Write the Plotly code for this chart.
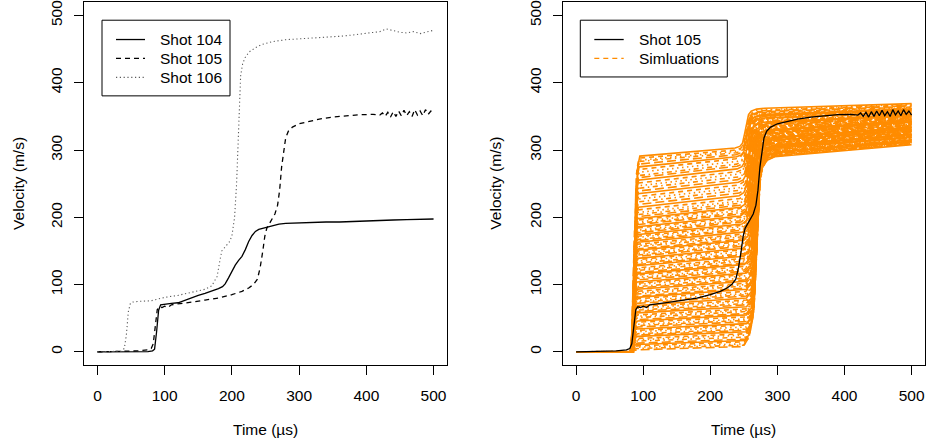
import plotly.graph_objects as go

# ---------------- data ----------------
t104 = [0, 20, 40, 60, 75, 82, 85, 88, 91, 94, 100, 110, 120, 130, 140, 150, 160, 170, 180, 186,
        190, 195, 200, 205, 210, 215, 220, 225, 230, 235, 240, 250, 260, 270, 280, 300, 320, 340, 360, 380,
        400, 420, 440, 460, 480, 500]
v104 = [0, 0, 0, 0.5, 0.5, 1.5, 4, 30, 62, 70, 71, 72, 73, 77, 81, 84, 87, 90, 94, 97,
        101, 110, 120, 129, 136, 142, 152, 164, 173, 179, 182, 185, 188, 190, 191, 192, 192.5, 193, 193, 194,
        195, 195.5, 196, 196.5, 197, 197.5]

t105 = [0, 20, 40, 60, 75, 80, 83, 86, 89, 92, 96, 100, 105, 110, 120, 140, 160, 180, 200, 215,
        225, 232, 238, 242, 246, 249, 252, 256, 260, 264, 268, 271, 274, 277, 280, 284, 290, 300, 315, 330,
        350, 370, 390, 410, 420, 424, 428, 432, 436, 440, 444, 448, 452, 456, 460, 464, 468, 472, 476, 480,
        484, 488, 492, 496, 500]
v105 = [0, 0.5, 1, 1.5, 3, 5, 12, 40, 63, 67, 66, 68, 66, 70, 71, 74, 77, 80, 85, 90,
        95, 100, 108, 125, 150, 172, 184, 191, 197, 205, 218, 240, 275, 300, 318, 328, 334, 339, 343, 346,
        349, 351, 352.5, 353, 352, 355, 350, 356, 349, 357, 350, 358, 351, 359, 351, 357, 350, 360, 352, 358,
        351, 360, 353, 358, 352]

t106 = [0, 20, 35, 40, 43, 46, 49, 52, 60, 80, 100, 120, 140, 160, 170, 178, 182, 185, 190, 196,
        200, 204, 207, 209, 211, 213, 216, 220, 226, 235, 245, 260, 280, 300, 320, 340, 360, 380, 400, 420,
        430, 440, 450, 460, 470, 480, 490, 500]
v106 = [0, 0, 1, 5, 25, 60, 72, 74, 75, 76, 81, 84, 88, 93, 98, 112, 135, 150, 156, 163,
        172, 200, 250, 300, 360, 410, 428, 438, 446, 452, 457, 461, 464, 465, 466, 467, 469, 471, 473, 476,
        480, 477, 475, 474, 476, 473, 475, 478]

# simulations: jump-1 time, level after jump 1, level before jump 2, jump-2 time,
# level after the jump-2 knee, final level at 500 us
sim_t1 = [89, 88, 89, 88, 87, 88, 87, 88, 87, 88, 86, 87, 88, 86, 87, 86, 87, 86, 87, 86,
          87, 86, 85, 86, 86, 85, 87, 85, 86, 84, 86, 85, 87, 85, 86, 84, 86, 85, 86, 84,
          86, 85, 86, 84, 86, 85, 86, 84, 86, 85, 86, 84, 86, 85, 86, 84, 86, 85, 86, 84,
          86, 85, 86, 84, 86, 85, 86, 84, 86, 85, 86, 84, 86, 85, 86, 84, 86, 85, 86, 84,
          86, 85, 86, 84, 86, 85, 86, 84, 86, 85, 86, 84, 86, 85, 86, 84, 86, 85, 86, 84,
          86, 85, 86, 84, 86, 85, 86, 84, 86, 85]
sim_v1 = [291, 288, 285, 283, 279, 275, 271, 267, 262, 259, 255, 251, 247, 243, 239, 235, 231, 227, 223, 219,
          215, 211, 207, 204, 201, 198, 196, 193, 191, 189, 186, 184, 181, 179, 177, 174, 172, 170, 167, 165,
          163, 160, 158, 156, 153, 151, 149, 146, 144, 142, 139, 137, 135, 132, 130, 128, 125, 123, 121, 118,
          116, 114, 111, 109, 107, 104, 102, 100, 97, 95, 93, 90, 88, 86, 83, 81, 79, 76, 74, 72,
          69, 67, 65, 62, 60, 58, 55, 53, 51, 48, 46, 44, 41, 39, 37, 34, 32, 30, 27, 25,
          23, 20, 18, 16, 13, 11, 9, 7, 5, 3]
sim_v2 = [303, 300, 298, 296, 293, 290, 287, 283, 279, 276, 272, 268, 264, 260, 256, 252, 248, 244, 240, 236,
          232, 228, 224, 221, 218, 215, 213, 210, 207, 205, 202, 200, 197, 195, 193, 190, 188, 186, 183, 181,
          178, 175, 173, 171, 168, 166, 164, 161, 159, 157, 154, 152, 149, 146, 144, 142, 139, 137, 135, 132,
          130, 127, 124, 122, 120, 117, 115, 113, 110, 107, 105, 102, 100, 98, 95, 93, 90, 87, 85, 83,
          80, 77, 75, 72, 70, 67, 64, 62, 60, 57, 55, 52, 49, 47, 45, 42, 40, 37, 34, 32,
          30, 27, 25, 22, 19, 17, 15, 12, 10, 8]
sim_t2 = [251, 252, 251, 253, 252, 253, 252, 254, 253, 254, 254, 255, 254, 256, 255, 256, 256, 257, 256, 257,
          257, 258, 257, 258, 258, 259, 258, 259, 259, 260, 259, 260, 260, 261, 260, 261, 261, 261, 261, 262,
          262, 262, 262, 262, 262, 263, 262, 263, 263, 263, 263, 264, 263, 264, 264, 264, 264, 265, 265, 265,
          265, 265, 266, 265, 266, 266, 266, 266, 267, 266, 267, 267, 267, 267, 267, 268, 267, 268, 268, 268,
          268, 268, 268, 268, 268, 268, 268, 268, 268, 268, 268, 268, 268, 268, 268, 268, 268, 268, 268, 268,
          268, 267, 267, 267, 266, 266, 265, 265, 264, 263]
sim_v3 = [362, 358, 360, 354, 357, 352, 356, 350, 359, 348, 353, 347, 355, 344, 351, 342, 353, 339, 348, 338,
          351, 335, 345, 333, 347, 330, 342, 328, 349, 326, 340, 324, 346, 322, 337, 330, 343, 320, 335, 328,
          341, 317, 333, 325, 338, 315, 331, 323, 336, 313, 329, 321, 334, 311, 327, 319, 332, 309, 324, 316,
          330, 307, 322, 314, 328, 305, 320, 313, 326, 303, 318, 311, 324, 301, 315, 308, 321, 299, 313, 306,
          319, 298, 311, 303, 316, 296, 309, 301, 314, 294, 306, 299, 311, 293, 303, 297, 308, 292, 301, 295,
          306, 291, 299, 294, 303, 290, 297, 293, 301, 291]
sim_v4 = [369, 366, 368, 362, 365, 360, 364, 358, 367, 356, 361, 355, 363, 352, 359, 350, 362, 348, 357, 347,
          361, 345, 355, 343, 358, 341, 353, 339, 360, 337, 351, 336, 357, 334, 349, 342, 355, 332, 347, 340,
          353, 330, 346, 338, 351, 328, 344, 336, 349, 326, 342, 334, 347, 325, 340, 332, 346, 323, 338, 330,
          344, 321, 336, 328, 342, 319, 334, 327, 340, 318, 332, 325, 338, 316, 330, 323, 336, 315, 328, 321,
          334, 314, 326, 319, 332, 313, 325, 318, 330, 312, 323, 316, 328, 311, 321, 315, 326, 310, 319, 313,
          324, 309, 317, 312, 322, 308, 315, 311, 320, 310]

# shared transition profiles (time offset, fraction of the step) for the simulated jumps
jump1_dt = [-3, -1, 1, 3, 6]
jump1_frac = [0.0, 0.15, 0.7, 0.95, 1.0]
jump2_dt = [-14, -7, -3, 0, 3, 6, 10, 18, 30]
jump2_frac = [0.0, 0.04, 0.12, 0.35, 0.65, 0.84, 0.93, 0.98, 1.0]

tick_vals = [0, 100, 200, 300, 400, 500]

left_legend = ["Shot 104", "Shot 105", "Shot 106"]
right_legend = ["Shot 105", "Simluations"]

# ---------------- styling ----------------
FONT = "Liberation Sans, Arial, sans-serif"
FS = 15.5
ORANGE = "#FF8C00"
DASH105 = "5px,4px"
DOT106 = "1.2px,2.6px"
GREY106 = "#5a5a5a"
sim_dashes = ["solid", "5px,4px", "1.5px,3.5px", "1.5px,3.5px,5px,3.5px", "9px,4px"]

fig = go.Figure()

# left panel
fig.add_trace(go.Scatter(x=t104, y=v104, mode="lines", name="Shot 104", showlegend=False,
                         line=dict(color="black", width=1.3), xaxis="x", yaxis="y"))
fig.add_trace(go.Scatter(x=t105, y=v105, mode="lines", name="Shot 105", showlegend=False,
                         line=dict(color="black", width=1.3, dash=DASH105), xaxis="x", yaxis="y"))
fig.add_trace(go.Scatter(x=t106, y=v106, mode="lines", name="Shot 106", showlegend=False,
                         line=dict(color=GREY106, width=1.1, dash=DOT106), xaxis="x", yaxis="y"))

# right panel: simulations grouped by line type
for k, dash in enumerate(sim_dashes):
    xs, ys = [], []
    for i in range(k, len(sim_v1), len(sim_dashes)):
        xs.append(0)
        ys.append(0)
        for dt, f in zip(jump1_dt, jump1_frac):
            xs.append(sim_t1[i] + dt)
            ys.append(f * sim_v1[i])
        for dt, f in zip(jump2_dt, jump2_frac):
            xs.append(sim_t2[i] + dt)
            ys.append(sim_v2[i] + f * (sim_v3[i] - sim_v2[i]))
        xs += [500, None]
        ys += [sim_v4[i], None]
    fig.add_trace(go.Scatter(x=xs, y=ys, mode="lines", name="Simluations", showlegend=False,
                             line=dict(color=ORANGE, width=1.6, dash=dash),
                             xaxis="x2", yaxis="y2", connectgaps=False))

fig.add_trace(go.Scatter(x=t105, y=v105, mode="lines", name="Shot 105", showlegend=False,
                         line=dict(color="black", width=1.3), xaxis="x2", yaxis="y2"))

axis_common = dict(range=[-20, 520], tickvals=tick_vals, ticks="outside", ticklen=9, tickwidth=1,
                   tickcolor="black", showline=True, mirror=True, linecolor="black", linewidth=1,
                   showgrid=False, zeroline=False, ticklabeloverflow="allow",
                   tickfont=dict(family=FONT, size=FS, color="black"))

# ---------------- legends (drawn as boxes, sample lines and text) ----------------
shapes = []
annotations = []


def add_legend(box, sample_x, text_x, row_y, labels, styles):
    x0, x1, y0, y1 = box
    shapes.append(dict(type="rect", xref="paper", yref="paper", x0=x0 / 927, x1=x1 / 927,
                       y0=1 - y1 / 440, y1=1 - y0 / 440, line=dict(color="black", width=1),
                       fillcolor="white", layer="above"))
    for lab, (col, dash), ry in zip(labels, styles, row_y):
        shapes.append(dict(type="line", xref="paper", yref="paper", x0=sample_x[0] / 927,
                           x1=sample_x[1] / 927, y0=1 - ry / 440, y1=1 - ry / 440,
                           line=dict(color=col, width=1.3, dash=dash), layer="above"))
        annotations.append(dict(text=lab, x=text_x / 927, y=1 - ry / 440, xref="paper", yref="paper",
                                showarrow=False, xanchor="left", yanchor="middle",
                                font=dict(family=FONT, size=FS, color="black")))


add_legend((102, 230, 18.3, 94.3), (116, 145), 158, [37.7, 56.7, 75.7], left_legend,
           [("black", "solid"), ("black", DASH105), (GREY106, DOT106)])
add_legend((580.3, 727.3, 18.3, 75.3), (594.3, 623.7), 637, [37.7, 56.7], right_legend,
           [("black", "solid"), (ORANGE, DASH105)])

for cx in [(84 + 447) / 2, (562.7 + 925) / 2]:
    annotations.append(dict(text="Time (µs)", x=cx / 927, y=1 - 429 / 440, xref="paper", yref="paper",
                            showarrow=False, xanchor="center", yanchor="middle",
                            font=dict(family=FONT, size=FS, color="black")))
for cx in [18.3, 496]:
    annotations.append(dict(text="Velocity (m/s)", x=cx / 927, y=1 - 182.5 / 440, xref="paper",
                            yref="paper", showarrow=False, xanchor="center", yanchor="middle",
                            textangle=-90, font=dict(family=FONT, size=FS, color="black")))

ydom = [1 - 365 / 440, 1.0]
fig.update_layout(
    width=927, height=440, autosize=False,
    margin=dict(l=0, r=0, t=0, b=0),
    paper_bgcolor="white", plot_bgcolor="white",
    font=dict(family=FONT, size=FS, color="black"),
    showlegend=False,
    xaxis=dict(domain=[84 / 927, 447 / 927], anchor="y", ticklabelstandoff=7, **axis_common),
    yaxis=dict(domain=ydom, anchor="x", tickangle=-90, ticklabelstandoff=6, **axis_common),
    xaxis2=dict(domain=[562.7 / 927, 925 / 927], anchor="y2", ticklabelstandoff=7, **axis_common),
    yaxis2=dict(domain=ydom, anchor="x2", tickangle=-90, ticklabelstandoff=6, **axis_common),
    shapes=shapes,
    annotations=annotations,
)

fig.write_html("out.html")
